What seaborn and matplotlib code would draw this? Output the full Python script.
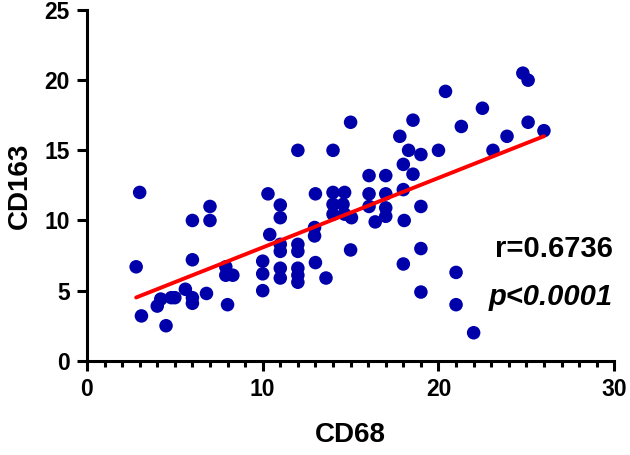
import matplotlib
matplotlib.use("Agg")
import numpy as np
import pandas as pd
import seaborn as sns
from matplotlib import pyplot as plt
from matplotlib.ticker import MultipleLocator

# values
cd68 = [
    2.8, 3.0, 3.1, 4.0, 4.2, 4.5, 4.8, 5.0, 5.6, 6.0, 6.0, 6.0, 6.0, 6.8, 7.0, 7.0,
    7.9, 7.9, 8.3, 8.0,
    10.3, 10.4, 10.0, 10.0, 10.0,
    11.0, 11.0, 11.0, 11.0, 11.0, 11.0,
    12.0, 12.0, 12.0, 12.0, 12.0, 12.0,
    13.0, 12.95, 12.95, 13.0, 13.6,
    14.0, 14.0, 14.66, 14.0, 14.57, 14.0, 14.66, 15.05,
    15.0, 15.0,
    16.05, 16.05, 16.05, 16.4,
    17.0, 17.0, 17.0, 17.0,
    17.8, 18.3, 18.55, 18.0, 18.55, 18.0, 18.05, 18.0,
    19.0, 19.0, 19.0, 19.0,
    20.0, 20.4,
    21.3, 22.5, 23.1, 23.9, 24.8, 25.1, 25.1, 26.0,
    21.0, 21.0, 22.0,
]
cd163 = [
    6.7, 12.0, 3.2, 3.9, 4.4, 2.5, 4.5, 4.5, 5.1, 4.5, 4.1, 7.2, 10.0, 4.8, 11.0, 10.0,
    6.7, 6.1, 6.1, 4.0,
    11.9, 9.0, 7.1, 6.2, 5.0,
    11.1, 10.2, 8.3, 7.8, 6.6, 5.9,
    15.0, 8.3, 7.8, 6.6, 6.1, 5.6,
    11.9, 9.5, 8.9, 7.0, 5.9,
    15.0, 12.0, 12.0, 11.15, 11.15, 10.45, 10.45, 10.2,
    17.0, 7.9,
    13.2, 11.9, 11.0, 9.9,
    13.2, 11.9, 10.9, 10.3,
    16.0, 15.0, 17.15, 14.0, 13.3, 12.2, 10.0, 6.9,
    14.7, 11.0, 8.0, 4.9,
    15.0, 19.2,
    16.7, 18.0, 15.0, 16.0, 20.5, 20.0, 17.0, 16.4,
    6.3, 4.0, 2.0,
]
stat_labels = ["r=0.6736", "p<0.0001"]

df = pd.DataFrame({"CD68": cd68, "CD163": cd163})

sns.set_style("ticks")
plt.rcParams["font.family"] = ["Liberation Sans", "DejaVu Sans"]
plt.rcParams["font.weight"] = "bold"
plt.rcParams["text.color"] = "black"
plt.rcParams["axes.labelcolor"] = "black"
plt.rcParams["xtick.labelcolor"] = "black"
plt.rcParams["ytick.labelcolor"] = "black"

fig = plt.figure(figsize=(6.3, 4.55), dpi=100)
ax = fig.add_axes([0.138, 0.207, 0.837, 0.771])

sns.regplot(
    data=df, x="CD68", y="CD163", ax=ax, ci=None,
    scatter_kws={"s": 95, "color": "#0000AA", "edgecolor": "none", "alpha": 1},
    line_kws={"color": "#FF0000", "lw": 2.8, "zorder": 3},
)

ax.set_xlim(0, 30)
ax.set_ylim(0, 25)
ax.xaxis.set_major_locator(MultipleLocator(10))
ax.xaxis.set_minor_locator(MultipleLocator(1))
ax.yaxis.set_major_locator(MultipleLocator(5))

for side in ["top", "right"]:
    ax.spines[side].set_visible(False)
for side in ["left", "bottom"]:
    ax.spines[side].set_linewidth(2.2)
    ax.spines[side].set_color("black")

ax.tick_params(axis="both", which="major", length=7.5, width=2.2, labelsize=16.5,
               color="black", pad=5)
ax.tick_params(axis="x", which="minor", length=4.5, width=2.2, color="black")
for lbl in ax.get_xticklabels() + ax.get_yticklabels():
    lbl.set_fontweight("bold")

ax.set_xlabel("CD68", fontsize=20, fontweight="bold", labelpad=15)
ax.set_ylabel("CD163", fontsize=20, fontweight="bold", labelpad=8)

ax.text(0.997, 0.295, stat_labels[0], transform=ax.transAxes, ha="right",
        va="baseline", fontsize=21, fontweight="bold")
ax.text(0.997, 0.16, stat_labels[1], transform=ax.transAxes, ha="right",
        va="baseline", fontsize=21, fontweight="bold", fontstyle="italic")

fig.savefig("out.png", dpi=100)
